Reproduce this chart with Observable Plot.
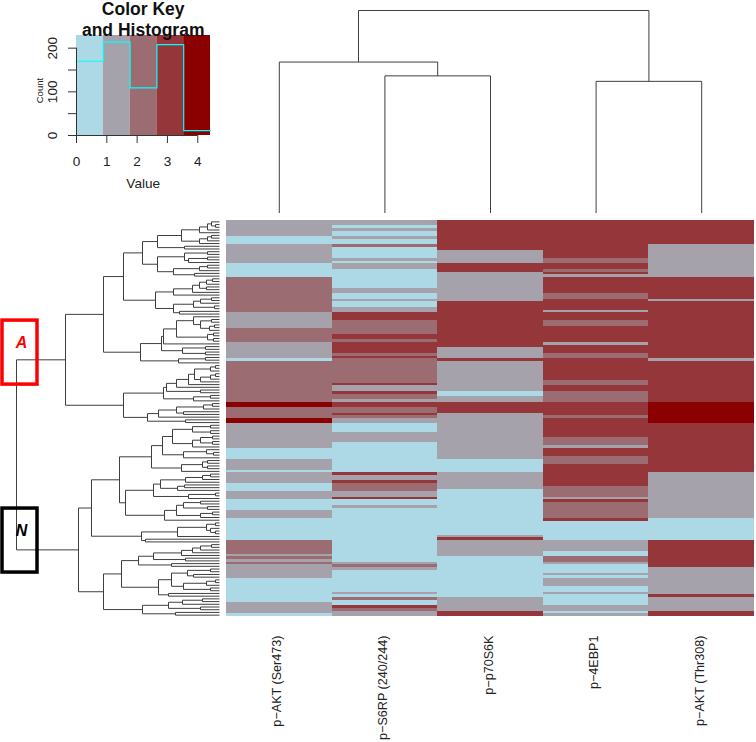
<!DOCTYPE html>
<html>
<head>
<meta charset="utf-8">
<script src="https://cdn.jsdelivr.net/npm/d3@7"></script>
<script src="https://cdn.jsdelivr.net/npm/@observablehq/plot@0.6"></script>
<style>
html,body{margin:0;padding:0;background:#fff}
#chart{position:relative;width:756px;height:742px;overflow:hidden}
#chart svg{position:absolute}
</style>
</head>
<body>
<div id="chart"></div>
<script>
// ---------- values ----------
const proteins = ["p\u2212AKT (Ser473)", "p\u2212S6RP (240/244)", "p\u2212p70S6K", "p\u22124EBP1", "p\u2212AKT (Thr308)"];
const rowCount = 146;
const levels = [0, 1, 2, 3, 4];
const palette = ["#ADD8E6", "#A5A2AC", "#9C6C73", "#94363A", "#8B0000"];

// [first row, colour level] for each run of equal cells, top to bottom
const akt473 = [[0,1],[6,0],[9,1],[16,0],[21,2],[34,1],[40,2],[45,1],[51,0],[52,2],[67,4],[69,2],[73,4],[75,1],[84,0],[88,1],[92,0],[93,1],[97,0],[100,1],[103,0],[107,1],[110,0],[118,2],[123,1],[124,2],[125,1],[126,2],[127,1],[132,0],[141,1],[145,0]];
const s6rp = [[0,1],[2,0],[3,1],[4,0],[6,1],[7,0],[9,2],[10,0],[14,1],[15,0],[16,1],[18,0],[25,1],[27,0],[29,1],[30,0],[32,1],[34,3],[37,2],[42,3],[44,2],[45,3],[49,2],[50,3],[51,2],[60,3],[61,1],[63,3],[64,2],[66,1],[67,3],[69,2],[71,3],[72,2],[73,1],[75,0],[78,1],[82,0],[93,3],[94,1],[96,3],[97,2],[100,1],[102,3],[103,0],[105,1],[106,0],[126,1],[127,2],[128,1],[129,0],[137,1],[138,0],[139,2],[140,0],[142,3],[143,2],[144,1]];
const p70s6k = [[0,3],[11,1],[16,3],[19,1],[30,3],[47,1],[51,3],[52,1],[63,0],[65,1],[67,3],[71,1],[88,0],[93,1],[99,0],[116,1],[117,3],[118,1],[124,0],[139,1],[144,3]];
const ebp1 = [[0,3],[14,2],[16,3],[18,2],[19,3],[20,1],[21,3],[27,2],[29,3],[33,1],[34,3],[37,2],[39,3],[45,1],[46,3],[49,2],[51,3],[59,2],[61,3],[63,2],[67,3],[72,2],[73,3],[80,2],[83,1],[84,3],[87,2],[90,3],[98,2],[102,1],[103,3],[104,2],[110,3],[111,0],[118,1],[122,0],[124,2],[126,1],[127,0],[130,1],[131,0],[132,1],[135,0],[137,1],[138,0],[142,1],[144,0],[145,1]];
const akt308 = [[0,3],[9,1],[21,3],[29,1],[30,3],[51,1],[52,3],[67,4],[75,3],[93,1],[110,0],[118,3],[128,1],[138,3],[139,1],[144,3]];
const columnRuns = [akt473, s6rp, p70s6k, ebp1, akt308];

// dendrograms: a node is [height, first child, second child]; a leaf is 0
const columnTree = [10, [7.46, 0, [6.78, 0, 0]], [6.51, 0, 0]];
const clusterA1a = [96,
  [77,
    [62, [38, [20, [12, [8, 0, [4, 0, 0]], 0], 0], [20, [12, [8, 0, 0], 0], 0]], [35, 0, 0]],
    [62, [35, [12, 0, 0], [31, [12, 0, 0], 0]], [46, [20, [12, 0, 0], 0], [25, 0, 0]]]],
  [64,
    [46, [27, [20, [13, [7, 0, 0], 0], [13, 0, 0]], 0], 0],
    [46, [26, [19, [8, 0, 0], 0], [5, 0, 0]], [40, 0, 0]]]];
const clusterA1b = [79,
  [58,
    [56, [43, [26, 0, [19, [8, 0, 0], [10, [5, 0, 0], 0]]], [12, [6, 0, 0], [6, 0, 0]]], 0],
    [37, [14, 0, 0], [14, 0, 0]]],
  [41, [14, 0, 0], 0]];
const clusterA2 = [96,
  [56,
    [53, [43, [31, [25, [9, [4, 0, 0], 0], [19, [9, [4, 0, 0], 0], 0]], 0], 0], [19, 0, 0]],
    [26, [9, 0, 0], 0]],
  [72, [61, [43, [16, [7, 0, 0], 0], [36, 0, 0]], 0], [34, 0, 0]]];
const clusterN1 = [128,
  [100,
    [68,
      [57,
        [47, [27, [9, 0, 0], [9, 0, 0]], [27, [19, [7, 0, 0], [7, 0, 0]], 0]],
        [36, [13, 0, [6, 0, 0]], 0]],
      [38, [17, [12, 0, 0], [12, 0, 0]], 0]],
    [94,
      [66, [59, [34, [17, [9, 0, 0], 0], 0], [42, [35, 0, 0], 0]], [31, [4, 0, 0], 0]],
      [55, [43, [36, [19, 0, 0], [12, 0, 0]], [19, [7, 0, 0], 0]], 0]]],
  [78, [42, [13, [4, 0, 0], [9, 0, [4, 0, 0]]], 0], [74, 0, 0]]];
const clusterN2 = [116,
  [98,
    [81, [66, [38, [27, [19, [8, 0, 0], 0], 0], 0], [34, 0, 0]], [48, 0, 0]],
    [61, [48, [32, [9, 0, 0], [26, 0, 0]], [36, [13, [4, 0, 0], 0], [9, 0, 0]]], [51, 0, 0]]],
  [77, [51, [37, [17, 0, 0], 0], [19, 0, 0]], [44, 0, 0]]];
const rowTree = [203,
  [154, [116, clusterA1a, clusterA1b], clusterA2],
  [141, clusterN1, clusterN2]];

// group boxes on the row dendrogram
const groupBoxes = [
  {name: "A", color: "#FF0000", h1: 217, h2: 182, r1: 36.9, r2: 60.5},
  {name: "N", color: "#000000", h1: 217, h2: 182, r1: 106.2, r2: 129.8}
];

// colour key
const keyBinEdges = [0, 0.884, 1.768, 2.652, 3.536, 4.42];
const keyCounts = [170, 214, 109, 208, 11];
const keyTicks = [0, 1, 2, 3, 4];
const countTicks = [0, 50, 100, 150, 200];
const countLabels = [0, 100, 200];

// ---------- derived tables ----------
const heatRuns = columnRuns.flatMap((runs, c) => runs.map(([start, level], i) => ({
  protein: proteins[c], start, end: i + 1 < runs.length ? runs[i + 1][0] : rowCount, level
})));

function dendroSegments(tree) {
  const segs = [];
  let leaf = 0;
  (function walk(n) {
    if (!Array.isArray(n)) return {pos: leaf++ + 0.5, h: 0};
    const a = walk(n[1]), b = walk(n[2]), h = n[0];
    segs.push({p1: a.pos, h1: h, p2: b.pos, h2: h});
    segs.push({p1: a.pos, h1: a.h, p2: a.pos, h2: h});
    segs.push({p1: b.pos, h1: b.h, p2: b.pos, h2: h});
    return {pos: (a.pos + b.pos) / 2, h};
  })(tree);
  return segs;
}

const lineColor = "#3f3f3f";
const font = "'Liberation Sans', Arial, sans-serif";
const chart = document.getElementById("chart");
function place(svg, left, top) {
  svg.style.left = left + "px";
  svg.style.top = top + "px";
  chart.appendChild(svg);
}

// ---------- top dendrogram ----------
place(Plot.plot({
  width: 528, height: 213, marginTop: 10, marginBottom: 0, marginLeft: 0, marginRight: 0,
  style: {background: "transparent"},
  x: {domain: [0, proteins.length], axis: null},
  y: {domain: [0, columnTree[0]], axis: null},
  marks: [
    Plot.link(dendroSegments(columnTree), {x1: "p1", y1: "h1", x2: "p2", y2: "h2", stroke: lineColor, strokeWidth: 1})
  ]
}), 226, 0);

// ---------- row dendrogram with A / N boxes ----------
place(Plot.plot({
  width: 226, height: 396, marginTop: 0, marginBottom: 0, marginLeft: 0, marginRight: 7,
  style: {background: "transparent"},
  x: {domain: [219, 0], axis: null},
  y: {domain: [rowCount, 0], axis: null},
  marks: [
    Plot.link(dendroSegments(rowTree), {x1: "h1", y1: "p1", x2: "h2", y2: "p2", stroke: lineColor, strokeWidth: 1}),
    Plot.rect(groupBoxes, {x1: "h1", x2: "h2", y1: "r1", y2: "r2", fill: "none", stroke: "color", strokeWidth: 3.5}),
    Plot.text(groupBoxes, {
      x: d => (d.h1 + d.h2) / 2, y: d => d.r1 + 8.3, dx: 1.5, text: "name", fill: "color",
      fontFamily: font, fontWeight: "bold", fontStyle: "italic", fontSize: 16
    })
  ]
}), 0, 220);

// ---------- heatmap ----------
place(Plot.plot({
  width: 528, height: 522, marginTop: 0, marginBottom: 126, marginLeft: 0, marginRight: 0,
  style: {background: "transparent", fontFamily: font},
  x: {domain: proteins, padding: 0, round: false, label: null},
  y: {domain: [rowCount, 0], axis: null},
  color: {type: "ordinal", domain: levels, range: palette},
  marks: [
    Plot.barY(heatRuns, {x: "protein", y1: "start", y2: "end", fill: "level", shapeRendering: "crispEdges"}),
    Plot.axisX({anchor: "bottom", tickRotate: -90, tickSize: 0, tickPadding: 19, fontSize: 12.6, fill: "#222", label: null, dx: -2})
  ]
}), 226, 220);

// ---------- colour key and histogram ----------
const keyBins = keyCounts.map((count, i) => ({x1: keyBinEdges[i], x2: keyBinEdges[i + 1], level: levels[i], count}));
const keyLine = keyCounts.map((count, i) => ({x: keyBinEdges[i], count})).concat([{x: keyBinEdges[5], count: keyCounts[4]}]);
place(Plot.plot({
  width: 226, height: 200, marginTop: 35, marginBottom: 65, marginLeft: 76, marginRight: 16,
  style: {background: "transparent", fontFamily: font},
  x: {domain: [0, 4.42], axis: null},
  y: {domain: [0, 229], axis: null},
  color: {type: "ordinal", domain: levels, range: palette},
  marks: [
    Plot.rect(keyBins, {x1: "x1", x2: "x2", y1: 0, y2: 229, fill: "level"}),
    Plot.line(keyLine, {x: "x", y: "count", curve: "step-after", stroke: "#00FFFF", strokeWidth: 1.2}),
    Plot.ruleY([0], {x1: 0, x2: 4, stroke: "#333"}),
    Plot.ruleX([0], {y1: 0, y2: 200, stroke: "#333"}),
    Plot.axisX({ticks: keyTicks, tickSize: 8, tickPadding: 13, fontSize: 13.6, fill: "#222", stroke: "#333", label: null, tickFormat: d => d}),
    Plot.axisY({ticks: countTicks, tickSize: 8, tickPadding: 12, fontSize: 13.6, fill: "#222", stroke: "#333", label: null, tickRotate: -90, tickFormat: d => countLabels.includes(d) ? d : ""}),
    Plot.text(["Value"], {x: 2.2, y: 0, dy: 48, text: d => d, fontSize: 13.6, fill: "#222"}),
    Plot.text(["Count"], {x: 0, y: 103, dx: -37, rotate: -90, text: d => d, fontSize: 9.6, fill: "#222"}),
    Plot.text(["Color Key"], {x: 2.2, y: 229, dy: -26, text: d => d, fontSize: 17.5, fontWeight: "bold", fill: "#111"}),
    Plot.text(["and Histogram"], {x: 2.2, y: 229, dy: -5, text: d => d, fontSize: 17.5, fontWeight: "bold", fill: "#111"})
  ]
}), 0, 0);
</script>
</body>
</html>
